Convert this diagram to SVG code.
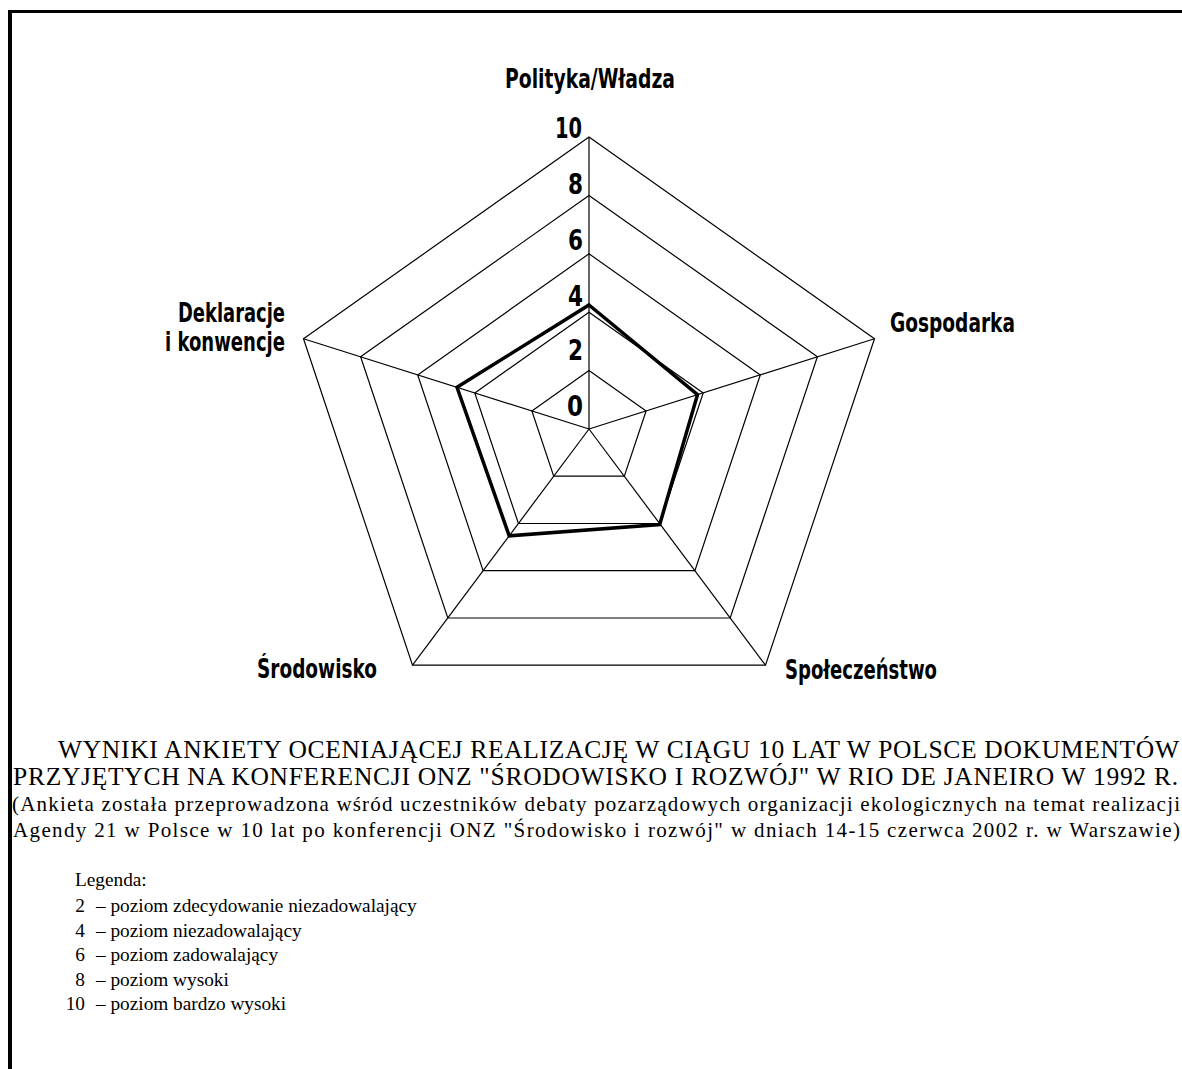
<svg xmlns="http://www.w3.org/2000/svg" width="1182" height="1069" viewBox="0 0 1182 1069">
<style>
.ring{fill:none;stroke:#000;stroke-width:1.2}
.spoke{stroke:#000;stroke-width:1.2}
.data{fill:none;stroke:#000;stroke-width:3.5;stroke-linejoin:miter}
.ax{font-family:"DejaVu Sans",sans-serif;font-weight:bold;font-size:26px;fill:#000}
.num{font-family:"DejaVu Sans",sans-serif;font-weight:bold;font-size:29px;fill:#000}
.ttl{font-family:"Liberation Serif",serif;font-size:25.5px;fill:#000}
.sub{font-family:"Liberation Serif",serif;font-size:21px;fill:#000}
.leg{font-family:"Liberation Serif",serif;font-size:19.3px;fill:#000}
</style>
<g id="frame">
<line x1="10" y1="10" x2="10" y2="1069" stroke="#000" stroke-width="4"/>
<line x1="8" y1="11.5" x2="1182" y2="11.5" stroke="#000" stroke-width="3"/>
</g>
<g id="grid">
<polygon class="ring" points="589,370.6 646.1,411 624.3,476.2 553.7,476.2 531.9,411"/>
<polygon class="ring" points="589,312.2 703.2,392.9 659.6,523.5 518.4,523.5 474.8,392.9"/>
<polygon class="ring" points="589,253.8 760.3,374.9 694.9,570.7 483.1,570.7 417.7,374.9"/>
<polygon class="ring" points="589,195.4 817.4,356.8 730.2,618 447.8,618 360.6,356.8"/>
<polygon class="ring" points="589,137 874.5,338.8 765.5,665.2 412.5,665.2 303.5,338.8"/>
</g>
<g id="connectors">
<line class="spoke" x1="589" y1="429" x2="589" y2="137"/>
<line class="spoke" x1="589" y1="429" x2="874.5" y2="338.8"/>
<line class="spoke" x1="589" y1="429" x2="765.5" y2="665.2"/>
<line class="spoke" x1="589" y1="429" x2="412.5" y2="665.2"/>
<line class="spoke" x1="589" y1="429" x2="303.5" y2="338.8"/>
</g>
<g id="data">
<polygon class="data" points="589,305 697.5,394.7 659.7,524.5 509.2,535.8 457,387.3"/>
</g>
<g id="scale">
<text class="num" x="555" y="138" textLength="27" lengthAdjust="spacingAndGlyphs">10</text>
<text class="num" x="568" y="194" textLength="15" lengthAdjust="spacingAndGlyphs">8</text>
<text class="num" x="568" y="250" textLength="15" lengthAdjust="spacingAndGlyphs">6</text>
<text class="num" x="568" y="306" textLength="15" lengthAdjust="spacingAndGlyphs">4</text>
<text class="num" x="568" y="360" textLength="15" lengthAdjust="spacingAndGlyphs">2</text>
<text class="num" x="567" y="416" textLength="16" lengthAdjust="spacingAndGlyphs">0</text>
</g>
<g id="axis-polityka"><text class="ax" x="505" y="88" textLength="170" lengthAdjust="spacingAndGlyphs">Polityka/Władza</text></g>
<g id="axis-gospodarka"><text class="ax" x="890" y="332" textLength="125" lengthAdjust="spacingAndGlyphs">Gospodarka</text></g>
<g id="axis-spoleczenstwo"><text class="ax" x="785" y="679" textLength="152" lengthAdjust="spacingAndGlyphs">Społeczeństwo</text></g>
<g id="axis-srodowisko"><text class="ax" x="257" y="678" textLength="120" lengthAdjust="spacingAndGlyphs">Środowisko</text></g>
<g id="axis-deklaracje">
<text class="ax" x="178" y="322" textLength="107" lengthAdjust="spacingAndGlyphs">Deklaracje</text>
<text class="ax" x="165" y="351" textLength="120" lengthAdjust="spacingAndGlyphs">i konwencje</text>
</g>
<g id="caption">
<text class="ttl" x="58" y="758" textLength="1121" lengthAdjust="spacing">WYNIKI ANKIETY OCENIAJĄCEJ REALIZACJĘ W CIĄGU 10 LAT W POLSCE DOKUMENTÓW</text>
<text class="ttl" x="13" y="785" textLength="1165" lengthAdjust="spacing">PRZYJĘTYCH NA KONFERENCJI ONZ "ŚRODOWISKO I ROZWÓJ" W RIO DE JANEIRO W 1992 R.</text>
<text class="sub" x="12" y="811" textLength="1168" lengthAdjust="spacing">(Ankieta została przeprowadzona wśród uczestników debaty pozarządowych organizacji ekologicznych na temat realizacji</text>
<text class="sub" x="13" y="837" textLength="1167" lengthAdjust="spacing">Agendy 21 w Polsce w 10 lat po konferencji ONZ "Środowisko i rozwój" w dniach 14-15 czerwca 2002 r. w Warszawie)</text>
</g>
<g id="legend">
<text class="leg" x="75" y="886">Legenda:</text>
<text class="leg" x="85" y="912" text-anchor="end">2</text>
<text class="leg" x="96" y="912">– poziom zdecydowanie niezadowalający</text>
<text class="leg" x="85" y="937" text-anchor="end">4</text>
<text class="leg" x="96" y="937">– poziom niezadowalający</text>
<text class="leg" x="85" y="961" text-anchor="end">6</text>
<text class="leg" x="96" y="961">– poziom zadowalający</text>
<text class="leg" x="85" y="986" text-anchor="end">8</text>
<text class="leg" x="96" y="986">– poziom wysoki</text>
<text class="leg" x="85" y="1010" text-anchor="end">10</text>
<text class="leg" x="96" y="1010">– poziom bardzo wysoki</text>
</g>
</svg>
